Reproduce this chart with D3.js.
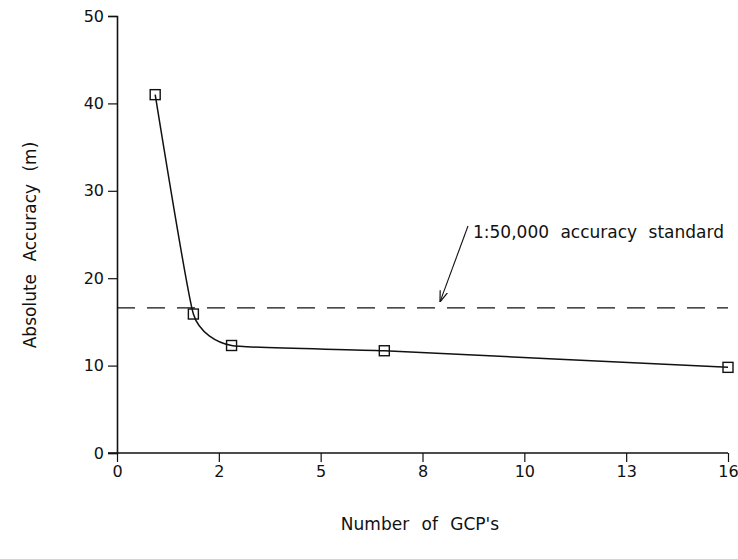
<!DOCTYPE html>
<html>
<head>
<meta charset="utf-8">
<script src="https://cdn.jsdelivr.net/npm/d3@7"></script>
<style>
    body { margin: 0; background: #fff; }
    text { font-family: 'DejaVu Sans', sans-serif; fill: #111; }
</style>
</head>
<body>
<svg id="chart" width="738" height="559"></svg>
<script>
'use strict';

// Data
const gcpCount = [1, 2, 3, 7, 16];
const accuracy = [41.0, 15.9, 12.3, 11.7, 9.8];
const standardValue = 16.6;
const standardLabel = '1:50,000 accuracy standard';
const xTickLabels = ['0', '2', '5', '8', '10', '13', '16'];
const yTickValues = [0, 10, 20, 30, 40, 50];

(function () {

    const svg = d3.select('#chart');

    // Scales
    const scX = d3.scaleLinear().domain([0, 16]).range([117, 728]);
    const scY = d3.scaleLinear().domain([0, 50]).range([453, 16]);

    // Y axis
    const yAxis = svg.append('g')
        .attr('transform', `translate(${scX(0)}, 0)`)
        .call(d3.axisLeft(scY).tickValues(yTickValues).tickSize(9).tickPadding(4));

    // X axis
    const xTickVals = xTickLabels.map((d, i) => i * 16 / (xTickLabels.length - 1));
    const xAxis = svg.append('g')
        .attr('transform', `translate(0, ${scY(0)})`)
        .call(d3.axisBottom(scX).tickValues(xTickVals)
            .tickFormat((d, i) => xTickLabels[i]).tickSize(9).tickPadding(4));

    [xAxis, yAxis].forEach((ax) => {
        ax.select('.domain').attr('stroke', '#111').attr('stroke-width', 1.6);
        ax.selectAll('.tick line').attr('stroke', '#111').attr('stroke-width', 1.2);
        ax.selectAll('.tick text').style('font-size', '16px').attr('fill', '#111');
    });
    // x domain runs a bit left, under the y=0 tick
    xAxis.select('.domain').attr('d', `M${scX(0) - 9},0H${scX(16)}`);

    // Axis labels
    svg.append('text')
        .attr('x', 420)
        .attr('y', 530)
        .attr('text-anchor', 'middle')
        .style('font-size', '17px')
        .style('word-spacing', '7px')
        .text("Number of GCP's");

    svg.append('text')
        .attr('transform', 'translate(36, 245) rotate(-90)')
        .attr('text-anchor', 'middle')
        .style('font-size', '17px')
        .style('word-spacing', '7px')
        .text('Absolute Accuracy (m)');

    // Standard line
    svg.append('line')
        .attr('x1', scX(0))
        .attr('x2', scX(16))
        .attr('y1', scY(standardValue))
        .attr('y2', scY(standardValue))
        .attr('stroke', '#111')
        .attr('stroke-width', 1.3)
        .attr('stroke-dasharray', '18,12');

    // Annotation + arrow
    svg.append('defs').append('marker')
        .attr('id', 'arrow')
        .attr('viewBox', '0 0 10 10')
        .attr('refX', 10).attr('refY', 5)
        .attr('markerWidth', 10).attr('markerHeight', 10)
        .attr('orient', 'auto')
        .append('path')
            .attr('d', 'M0,1.5 L10,5 L0,8.5')
            .attr('fill', 'none')
            .attr('stroke', '#111')
            .attr('stroke-width', 1.1);

    svg.append('line')
        .attr('x1', 468).attr('y1', 226)
        .attr('x2', 440).attr('y2', scY(standardValue) - 6)
        .attr('stroke', '#111')
        .attr('stroke-width', 1.1)
        .attr('marker-end', 'url(#arrow)');

    svg.append('text')
        .attr('x', 473)
        .attr('y', 238)
        .style('font-size', '17px')
        .style('word-spacing', '6px')
        .text(standardLabel);

    // Curve
    const pts = gcpCount.map((d, i) => [d, accuracy[i]]);
    const line = d3.line()
        .x((d) => scX(d[0]))
        .y((d) => scY(d[1]))
        .curve(d3.curveCardinal.tension(0.55));

    svg.append('path')
        .datum(pts)
        .attr('d', line)
        .attr('fill', 'none')
        .attr('stroke', '#111')
        .attr('stroke-width', 1.5);

    // Square markers
    svg.selectAll('.pt')
        .data(pts)
        .enter()
        .append('rect')
            .attr('class', 'pt')
            .attr('x', (d) => scX(d[0]) - 5)
            .attr('y', (d) => scY(d[1]) - 5)
            .attr('width', 10)
            .attr('height', 10)
            .attr('fill', 'none')
            .attr('stroke', '#111')
            .attr('stroke-width', 1.4);

})();
</script>
</body>
</html>
